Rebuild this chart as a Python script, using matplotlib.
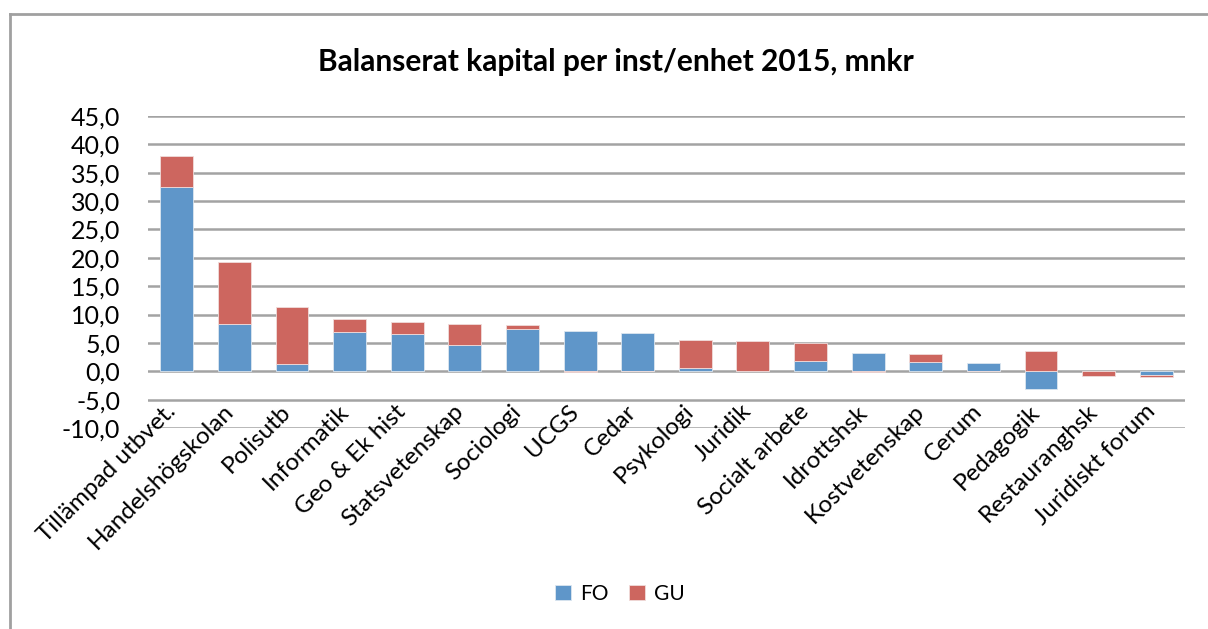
import matplotlib.pyplot as plt
from matplotlib.lines import Line2D
from matplotlib.transforms import ScaledTranslation
import numpy as np

plt.rcParams['font.family'] = ['Lato', 'DejaVu Sans']

categories = ['Tillämpad utbvet.', 'Handelshögskolan', 'Polisutb', 'Informatik',
              'Geo & Ek hist', 'Statsvetenskap', 'Sociologi', 'UCGS', 'Cedar',
              'Psykologi', 'Juridik', 'Socialt arbete', 'Idrottshsk',
              'Kostvetenskap', 'Cerum', 'Pedagogik', 'Restauranghsk',
              'Juridiskt forum']
fo = [32.5, 8.3, 1.2, 7.0, 6.5, 4.6, 7.4, 7.1, 6.8, 0.5, 0.0, 1.8, 3.2,
      1.7, 1.4, -3.2, 0.0, -0.6]
gu = [5.5, 10.9, 10.1, 2.3, 2.1, 3.7, 0.8, -0.1, 0.0, 5.1, 5.3, 3.2, -0.1,
      1.3, 0.0, 3.5, -0.8, -0.4]
yticks = np.arange(-10, 46, 5)

fo_color = '#5F96C9'
gu_color = '#CD665F'
grid_color = '#A3A3A3'

fig = plt.figure(figsize=(12.08, 6.29), dpi=100)
ax = fig.add_axes([148 / 1208, 1 - 428 / 629, (1185 - 148) / 1208, (428 - 116) / 629])

x = np.arange(len(categories))
fo_arr = np.array(fo)
gu_arr = np.array(gu)
# Excel-style stacking: positives and negatives stack separately
gu_bottom = np.where(np.sign(fo_arr) == np.sign(gu_arr), fo_arr, 0.0)

ax.bar(x, fo_arr, width=0.57, color=fo_color, edgecolor='#DCE6F0', linewidth=0.6, zorder=3, label='FO')
ax.bar(x, gu_arr, bottom=gu_bottom, width=0.57, color=gu_color, edgecolor='#F0DCDB', linewidth=0.6,
       zorder=3, label='GU')

ax.set_xlim(-0.5, len(categories) - 0.5)
ax.set_ylim(-10, 45)
ax.set_yticks(yticks)
ax.set_yticklabels([f'{v:.1f}'.replace('.', ',') for v in yticks], fontsize=18)
for v in yticks:
    ax.axhline(v, color=grid_color, linewidth=1.8, zorder=1)

ax.set_xticks(x)
ax.set_xticklabels(categories, rotation=45, ha='right', va='baseline',
                   rotation_mode='anchor', fontsize=17.5)
shift = ScaledTranslation(5 / 100, 0, fig.dpi_scale_trans)
for lbl in ax.get_xticklabels():
    lbl.set_transform(lbl.get_transform() + shift)
ax.tick_params(axis='x', length=0, pad=-11)
ax.tick_params(axis='y', length=0, pad=20)
for s in ax.spines.values():
    s.set_visible(False)
ax.set_facecolor('none')

fig.text(616 / 1208, 1 - 62 / 629, 'Balanserat kapital per inst/enhet 2015, mnkr',
         ha='center', va='center', fontsize=21.5, fontweight='bold')

fig.legend(loc='center', bbox_to_anchor=(620 / 1208, 1 - 594 / 629), ncol=2,
           frameon=False, fontsize=15, handlelength=0.75, handleheight=0.75,
           handletextpad=0.45, columnspacing=1.0)

# outer chart frame
fig.add_artist(Line2D([10 / 1208, 1], [1 - 14 / 629, 1 - 14 / 629], color='#A0A0A0', linewidth=2,
                      transform=fig.transFigure))
fig.add_artist(Line2D([10 / 1208, 10 / 1208], [0, 1 - 14 / 629], color='#A0A0A0', linewidth=2,
                      transform=fig.transFigure))

plt.savefig('out.png', dpi=100)
